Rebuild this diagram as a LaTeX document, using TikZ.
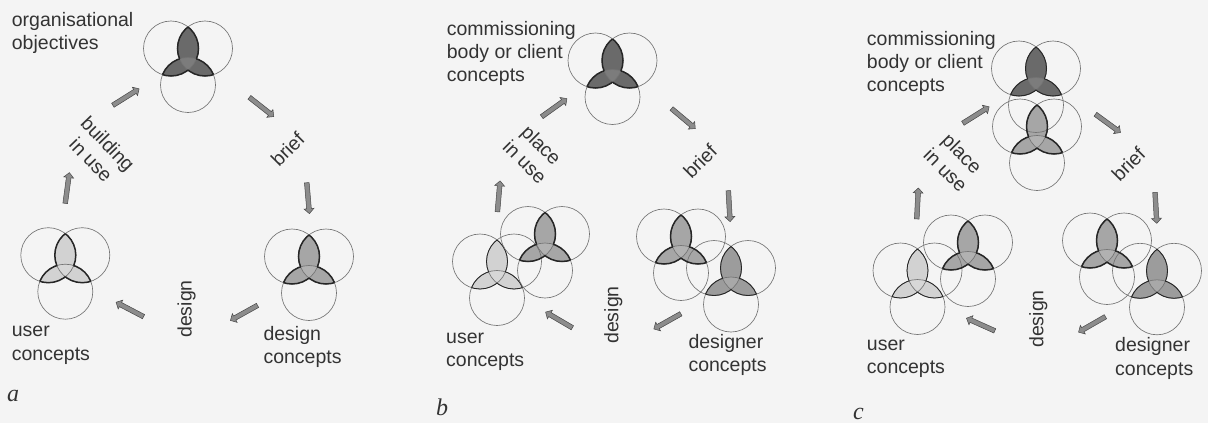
\documentclass[tikz,border=0pt]{standalone}
\usepackage{fontspec}
\setmainfont{Liberation Sans}
\newfontfamily\lserif{Liberation Serif}
\usetikzlibrary{shapes.arrows}
\pgfdeclarelayer{paper}
\pgfdeclarelayer{shade}
\pgfsetlayers{paper,shade,main}
\definecolor{paperc}{HTML}{F4F4F4}
\definecolor{vdark}{HTML}{6A6A6A}
\definecolor{vmid}{HTML}{A6A6A6}
\definecolor{vmidb}{HTML}{9C9C9C}
\definecolor{vlight}{HTML}{D2D2D2}
\definecolor{inkc}{HTML}{333333}
\newcommand\vennR{27.5pt}
\tikzset{
  lbl/.style={font=\fontsize{19.5}{23.3}\selectfont, text=inkc, inner sep=0pt},
  lblb/.style={lbl, anchor=base west, align=left},
  panel/.style={font=\lserif\itshape\fontsize{24}{24}\selectfont, text=inkc, inner sep=0pt, anchor=base west},
  vline/.style={draw=black!55, line width=0.65pt},
  vedge/.style={draw=black!85},
  garrow/.style={single arrow, draw=black!72, fill=black!45, line width=0.5pt,
    minimum height=31pt, minimum width=9.5pt, single arrow head extend=2.6pt,
    inner sep=2.1pt, sloped, allow upside down, midway},
}
% #1 position of the upper pair, #2 shade colour, #3 outline width
\newcommand\venn[3]{%
  \begin{scope}[shift={#1}]
    \coordinate (vL) at (-17,0);
    \coordinate (vR) at (17,0);
    \coordinate (vB) at (0,36.5);
    \begin{pgfonlayer}{shade}
      \begin{scope}
        \clip (vL) circle[radius=\vennR];
        \fill[#2] (vR) circle[radius=\vennR] (vB) circle[radius=\vennR];
      \end{scope}
      \begin{scope}
        \clip (vR) circle[radius=\vennR];
        \fill[#2] (vB) circle[radius=\vennR];
      \end{scope}
      \begin{scope}
        \clip (vL) circle[radius=\vennR];
        \clip (vR) circle[radius=\vennR];
        \fill[#2!88!white] (vB) circle[radius=\vennR];
      \end{scope}
    \end{pgfonlayer}
    \draw[vline] (vL) circle[radius=\vennR] (vR) circle[radius=\vennR] (vB) circle[radius=\vennR];
    \begin{scope}[even odd rule]
      \clip (vR) circle[radius=\vennR] (vB) circle[radius=\vennR];
      \draw[vedge, line width=#3] (vL) circle[radius=\vennR];
    \end{scope}
    \begin{scope}[even odd rule]
      \clip (vL) circle[radius=\vennR] (vB) circle[radius=\vennR];
      \draw[vedge, line width=#3] (vR) circle[radius=\vennR];
    \end{scope}
    \begin{scope}[even odd rule]
      \clip (vL) circle[radius=\vennR] (vR) circle[radius=\vennR];
      \draw[vedge, line width=#3] (vB) circle[radius=\vennR];
    \end{scope}
  \end{scope}}
\newcommand\garr[3]{\path #2 -- #3 node[garrow] (#1) {};}
\begin{document}
\begin{tikzpicture}[x=1pt, y=-1pt]
\begin{pgfonlayer}{paper}
  \fill[paperc] (0,0) rectangle (1208,423);
\end{pgfonlayer}
\useasboundingbox (0,0) rectangle (1208,423);

% ---------------- panel a ----------------
\venn{(188,48.5)}{vdark}{1.5pt}
\venn{(309,256.5)}{vmid}{1.5pt}
\venn{(65.3,255.2)}{vlight}{1.5pt}
\node[lblb] (orgA) at (11.7,49.3) {organisational\\objectives};
\node[lblb] (userA) at (11.7,360) {user\\concepts};
\node[lblb] (desA) at (263.3,363.3) {design\\concepts};
\node[lbl, align=center, rotate=-46] (useA) at (99.6,151.7) {building\\in use};
\node[lbl, rotate=45] (briefA) at (287.5,149) {brief};
\node[lbl, rotate=90] (designA) at (186.7,309) {design};
\node[panel] (labA) at (7,401) {a};
\garr{arA1}{(111.7,106)}{(138.3,89.3)}
\garr{arA2}{(247.3,95.7)}{(274,116.7)}
\garr{arA3}{(306.7,181.7)}{(309.3,212.3)}
\garr{arA4}{(260,304)}{(230,320.7)}
\garr{arA5}{(146.7,318.3)}{(115,301.7)}
\garr{arA6}{(65,205)}{(69.3,173.3)}

% ---------------- panel b ----------------
\venn{(612.5,60.5)}{vdark}{1.5pt}
\venn{(497,261.5)}{vlight}{0.8pt}
\venn{(545,234)}{vmid}{1.5pt}
\venn{(731,268)}{vmidb}{0.9pt}
\venn{(681,236.5)}{vmid}{1.5pt}
\node[lblb] (comB) at (446.7,81.6) {commissioning\\body or client\\concepts};
\node[lblb] (userB) at (446,366.6) {user\\concepts};
\node[lblb] (desB) at (688.3,371.6) {designer\\concepts};
\node[lbl, align=center, rotate=-45] (useB) at (533.3,153.3) {place\\in use};
\node[lbl, rotate=45] (briefB) at (700,161) {brief};
\node[lbl, rotate=90] (designB) at (613.3,315) {design};
\node[panel] (labB) at (436,415) {b};
\garr{arB1}{(541.7,116.7)}{(565,100)}
\garr{arB2}{(670,107.3)}{(695,128.3)}
\garr{arB3}{(728.3,190)}{(730,220)}
\garr{arB4}{(681.7,313.3)}{(655,328.3)}
\garr{arB5}{(573.3,328.3)}{(546.7,312.7)}
\garr{arB6}{(497.3,213.3)}{(500,181.7)}

% ---------------- panel c ----------------
\venn{(1036,68.5)}{vdark}{1.0pt}
\venn{(1037,126.5)}{vmid}{1.5pt}
\venn{(917.5,270.5)}{vlight}{0.8pt}
\venn{(968,242.5)}{vmid}{1.5pt}
\venn{(1157,270.8)}{vmidb}{0.9pt}
\venn{(1107,240.5)}{vmid}{1.5pt}
\node[lblb] (comC) at (866.7,91.6) {commissioning\\body or client\\concepts};
\node[lblb] (userC) at (866.7,373.3) {user\\concepts};
\node[lblb] (desC) at (1115,375) {designer\\concepts};
\node[lbl, align=center, rotate=-45] (useC) at (954,161.7) {place\\in use};
\node[lbl, rotate=45] (briefC) at (1128.3,164) {brief};
\node[lbl, rotate=90] (designC) at (1038.3,319) {design};
\node[panel] (labC) at (853,419) {c};
\garr{arC1}{(961.7,124)}{(988.3,107.3)}
\garr{arC2}{(1093.3,112.7)}{(1120.7,132.7)}
\garr{arC3}{(1155,191.7)}{(1156.7,221.7)}
\garr{arC4}{(1106.7,316)}{(1079.3,331.7)}
\garr{arC5}{(996.7,331.7)}{(966.7,318.3)}
\garr{arC6}{(916.7,220)}{(918.3,189.3)}
\end{tikzpicture}
\end{document}
